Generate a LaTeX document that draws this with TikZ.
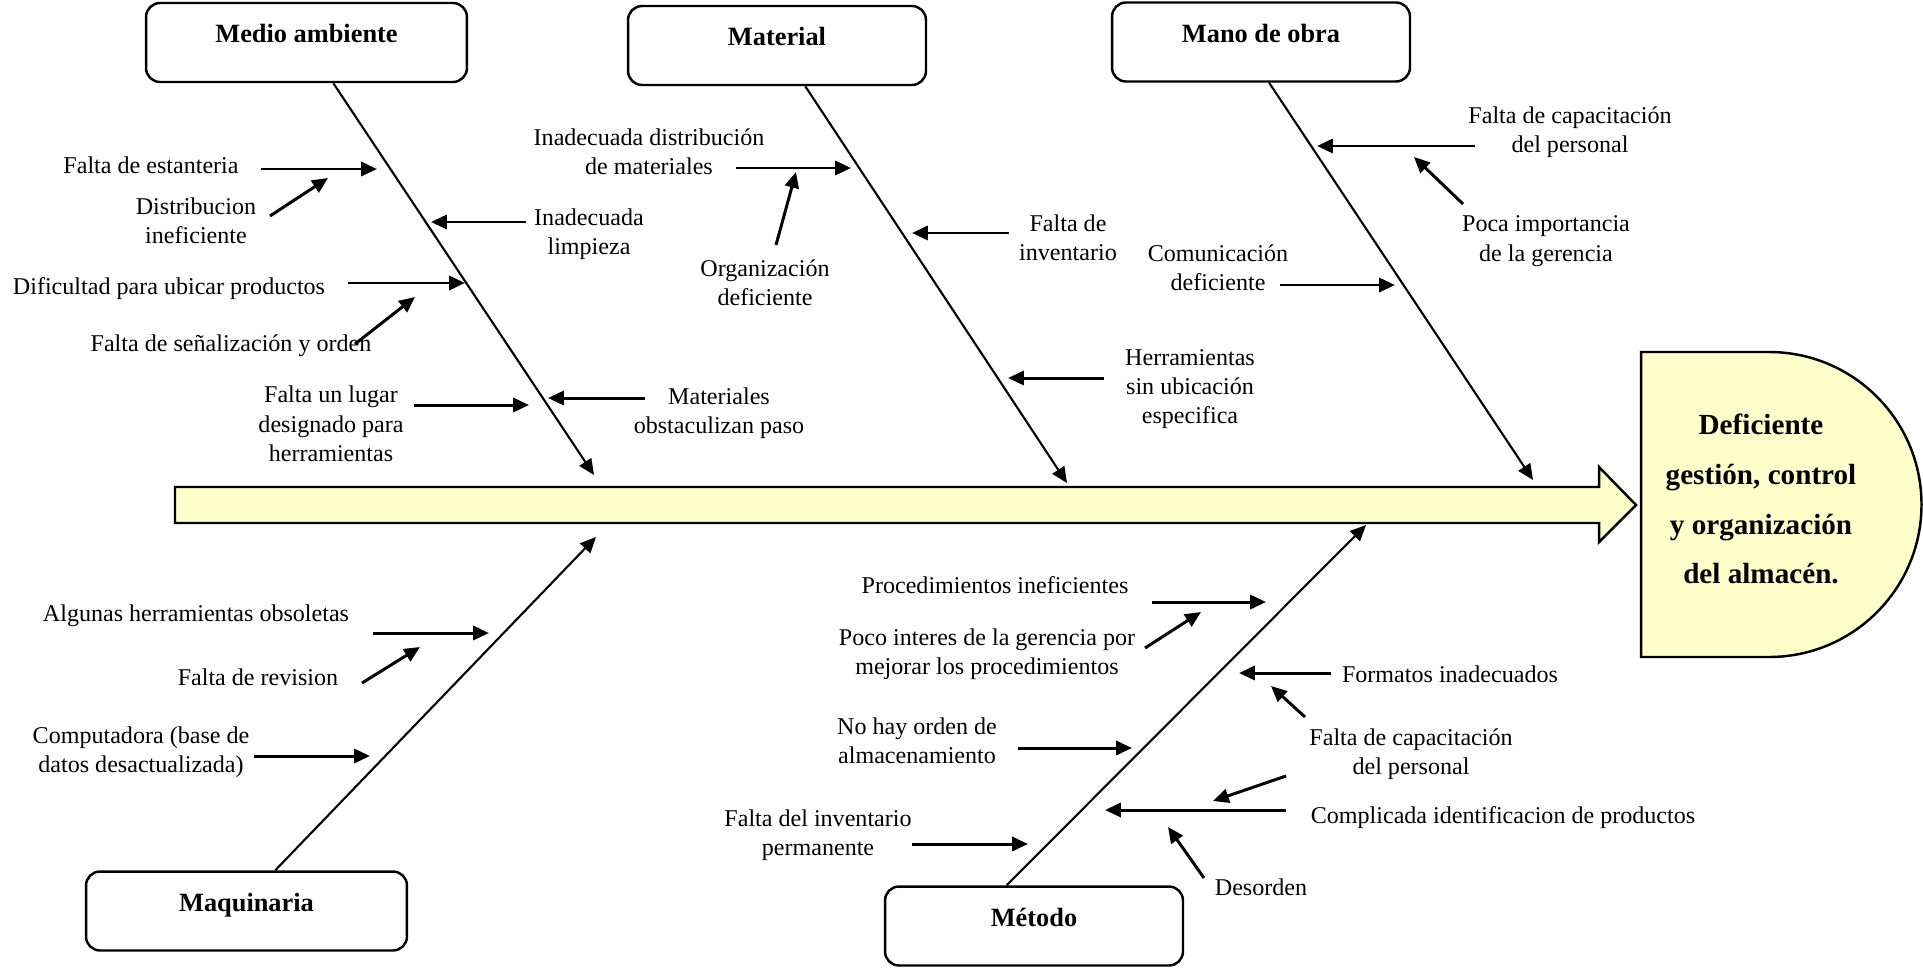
\documentclass[tikz,border=0pt]{standalone}
\usepackage{fontspec}
\setmainfont{Liberation Serif}
\usetikzlibrary{arrows.meta,positioning,calc}
\definecolor{spineyellow}{RGB}{255,255,204}

\begin{document}
\begin{tikzpicture}[x=0.02cm, y=-0.02cm,
  catbox/.style={draw, line width=1.4pt, rounded corners=0.28cm, fill=white, minimum height=1.58cm, text height=0.3cm, text depth=0.3cm, font=\fontsize{15}{18}\selectfont\bfseries},
  widebox/.style={catbox, minimum width=6.42cm},
  narrowbox/.style={catbox, minimum width=5.96cm},
  cause/.style={font=\fontsize{13.7}{16.7}\selectfont, align=center, inner sep=0pt},
  arrowcause/.style={line width=1.7pt, -{Triangle[length=9pt,width=8pt]}},
  bone/.style={line width=1.2pt, -{Triangle[length=9pt,width=8pt]}}]
\useasboundingbox (0,0) rectangle (1923,967);

% spine and effect
\draw[line width=1.4pt, fill=spineyellow] (175,487) -- (1599,487) -- (1599,467) -- (1636,505) -- (1599,542) -- (1599,523) -- (175,523) -- cycle;
\draw[line width=1.4pt, fill=spineyellow] (1641,352) -- (1769,352) arc[start angle=-90, end angle=90, radius=152.5] -- (1641,657) -- cycle;
\node[font=\fontsize{16.6}{28.4}\selectfont\bfseries, align=center] (eff) at (1761,499) {Deficiente\\gestión, control\\y organización\\del almacén.};

% categories
\node[widebox] (amb) at (306.5,42.5) {Medio ambiente};
\node[narrowbox] (mat) at (777,45.5) {Material};
\node[narrowbox] (mob) at (1261,42) {Mano de obra};
\node[widebox] (maq) at (246.5,911) {Maquinaria};
\node[narrowbox] (met) at (1034,926) {Método};

\coordinate (ambtip) at (594,475);
\coordinate (mattip) at (1067,483);
\coordinate (mobtip) at (1533,480);
\coordinate (maqtip) at (596,537);
\coordinate (mettip) at (1366,525);

\draw[bone] ($(amb.south west)!0.583!(amb.south east)$) -- (ambtip);
\draw[bone] ($(mat.south west)!0.594!(mat.south east)$) -- (mattip);
\draw[bone] ($(mob.south west)!0.527!(mob.south east)$) -- (mobtip);
\draw[bone] ($(maq.north west)!0.589!(maq.north east)$) -- (maqtip);
\draw[bone] ($(met.north west)!0.409!(met.north east)$) -- (mettip);

% Medio ambiente
\node[cause] (amb1) at (151,165) {Falta de estanteria};
\node[cause] (amb2) at (196,221) {Distribucion\\ineficiente};
\node[cause] (amb3) at (589,234) {Inadecuada\\limpieza};
\node[cause] (amb4) at (169,289) {Dificultad para ubicar productos};
\node[cause] (amb5) at (231,346) {Falta de señalización y orden};
\node[cause] (amb6) at (331,424) {Falta un lugar\\designado para\\herramientas};
\node[cause] (amb7) at (719,413) {Materiales\\obstaculizan paso};
\coordinate (amb1s) at (261,169); \coordinate (amb1e) at (377,169);
\coordinate (amb2s) at (270,216); \coordinate (amb2e) at (328,178);
\coordinate (amb3s) at (526,222); \coordinate (amb3e) at (431,222);
\coordinate (amb4s) at (348,283); \coordinate (amb4e) at (465,283);
\coordinate (amb5s) at (355,344); \coordinate (amb5e) at (415,297);
\coordinate (amb6s) at (414,405); \coordinate (amb6e) at (529,405);
\coordinate (amb7s) at (645,398); \coordinate (amb7e) at (548,398);
\draw[arrowcause] (amb1s) -- (amb1e);
\draw[arrowcause] (amb2s) -- (amb2e);
\draw[arrowcause] (amb3s) -- (amb3e);
\draw[arrowcause] (amb4s) -- (amb4e);
\draw[arrowcause] (amb5s) -- (amb5e);
\draw[arrowcause] (amb6s) -- (amb6e);
\draw[arrowcause] (amb7s) -- (amb7e);

% Material
\node[cause] (mat1) at (649,152) {Inadecuada distribución\\de materiales};
\node[cause] (mat2) at (765,283) {Organización\\deficiente};
\node[cause] (mat3) at (1068,238) {Falta de\\inventario};
\node[cause] (mat4) at (1190,389) {Herramientas\\sin ubicación\\especifica};
\coordinate (mat1s) at (736,168); \coordinate (mat1e) at (851,168);
\coordinate (mat2s) at (776,245); \coordinate (mat2e) at (796,172);
\coordinate (mat3s) at (1009,233); \coordinate (mat3e) at (912,233);
\coordinate (mat4s) at (1104,378); \coordinate (mat4e) at (1008,378);
\draw[arrowcause] (mat1s) -- (mat1e);
\draw[arrowcause] (mat2s) -- (mat2e);
\draw[arrowcause] (mat3s) -- (mat3e);
\draw[arrowcause] (mat4s) -- (mat4e);

% Mano de obra
\node[cause] (mob1) at (1570,132) {Falta de capacitación\\del personal};
\node[cause] (mob2) at (1546,241) {Poca importancia\\de la gerencia};
\node[cause] (mob3) at (1218,268) {Comunicación\\deficiente};
\coordinate (mob1s) at (1475,146); \coordinate (mob1e) at (1317,146);
\coordinate (mob2s) at (1463,204); \coordinate (mob2e) at (1414,157);
\coordinate (mob3s) at (1280,285); \coordinate (mob3e) at (1395,285);
\draw[arrowcause] (mob1s) -- (mob1e);
\draw[arrowcause] (mob2s) -- (mob2e);
\draw[arrowcause] (mob3s) -- (mob3e);

% Maquinaria
\node[cause] (maq1) at (196,616) {Algunas herramientas obsoletas};
\node[cause] (maq2) at (258,677) {Falta de revision};
\node[cause] (maq3) at (141,752) {Computadora (base de\\datos desactualizada)};
\coordinate (maq1s) at (373,633); \coordinate (maq1e) at (489,633);
\coordinate (maq2s) at (362,683); \coordinate (maq2e) at (420,647);
\coordinate (maq3s) at (254,756); \coordinate (maq3e) at (370,756);
\draw[arrowcause] (maq1s) -- (maq1e);
\draw[arrowcause] (maq2s) -- (maq2e);
\draw[arrowcause] (maq3s) -- (maq3e);

% Metodo
\node[cause] (met1) at (995,585) {Procedimientos ineficientes};
\node[cause] (met2) at (987,654) {Poco interes de la gerencia por\\mejorar los procedimientos};
\node[cause] (met3) at (1450,674) {Formatos inadecuados};
\node[cause] (met4) at (1411,754) {Falta de capacitación\\del personal};
\node[cause] (met5) at (917,741) {No hay orden de\\almacenamiento};
\node[cause] (met6) at (1503,818) {Complicada identificacion de productos};
\node[cause] (met7) at (818,835) {Falta del inventario\\permanente};
\node[cause] (met8) at (1261,887) {Desorden};
\coordinate (met1s) at (1152,602); \coordinate (met1e) at (1266,602);
\coordinate (met2s) at (1145,648); \coordinate (met2e) at (1201,612);
\coordinate (met3s) at (1331,673); \coordinate (met3e) at (1239,673);
\coordinate (met4s) at (1305,717); \coordinate (met4e) at (1271,686);
\coordinate (met9s) at (1286,776); \coordinate (met9e) at (1213,801);
\coordinate (met5s) at (1018,748); \coordinate (met5e) at (1132,748);
\coordinate (met6s) at (1286,810); \coordinate (met6e) at (1105,810);
\coordinate (met7s) at (912,844); \coordinate (met7e) at (1028,844);
\coordinate (met8s) at (1204,878); \coordinate (met8e) at (1168,827);
\draw[arrowcause] (met1s) -- (met1e);
\draw[arrowcause] (met2s) -- (met2e);
\draw[arrowcause] (met3s) -- (met3e);
\draw[arrowcause] (met4s) -- (met4e);
\draw[arrowcause] (met9s) -- (met9e);
\draw[arrowcause] (met5s) -- (met5e);
\draw[arrowcause] (met6s) -- (met6e);
\draw[arrowcause] (met7s) -- (met7e);
\draw[arrowcause] (met8s) -- (met8e);
\end{tikzpicture}
\end{document}
